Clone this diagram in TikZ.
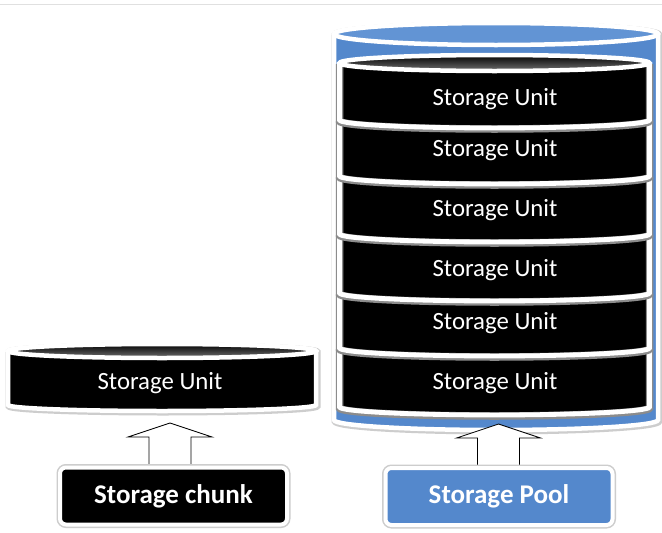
\documentclass[tikz,border=0pt]{standalone}
\usepackage{fontspec}
\setmainfont{Carlito}
\usetikzlibrary{calc}

\definecolor{poolblue}{RGB}{84,136,204}
\definecolor{pooltop}{RGB}{98,148,212}
\definecolor{rimgray}{RGB}{205,205,205}

% side walls + bottom arc + hidden back arc of a can shape
% #1 cx, #2 rx, #3 top y, #4 bottom y, #5 ry (pt)
\newcommand\canbody[5]{%
  ({#1-#2},#3) -- ({#1-#2},#4)
  arc[start angle=180,end angle=360,x radius=#2pt,y radius=#5pt]
  -- ({#1+#2},#3)
  arc[start angle=0,end angle=180,x radius=#2pt,y radius=#5pt] -- cycle}
% open outline (sides and bottom only)
\newcommand\canrim[5]{%
  ({#1-#2},#3) -- ({#1-#2},#4)
  arc[start angle=180,end angle=360,x radius=#2pt,y radius=#5pt]
  -- ({#1+#2},#3)}

\begin{document}
\begin{tikzpicture}[x=1pt,y=-1pt,
  halo/.style={draw=rimgray,line width=7pt},
  rim/.style={draw=white,line width=4.5pt},
  sephalo/.style={draw=black!45,line width=7.5pt},
  seprim/.style={draw=white,line width=4.8pt},
  capshade/.style={top color=black,bottom color=black!55},
  unitlabel/.style={text=white,font=\fontsize{24.8}{25}\selectfont},
  boxlabel/.style={text=white,font=\bfseries\fontsize{27}{27}\selectfont,
    minimum width=227pt,minimum height=57pt,rounded corners=6pt,
    preaction={draw=rimgray,line width=7pt},draw=white,line width=4pt},
  blockarrow/.style={fill=white,draw=black,line width=0.8pt,line join=miter},
]
\useasboundingbox (0,0) rectangle (662,533);
\fill[white] (0,0) rectangle (662,533);
\draw[black!12,line width=0.8pt] (0,4) -- (662,4);

% ---------- storage pool can ----------
\path[halo,shift={(1,1)}] \canbody{496}{162}{34}{420}{10};
\path[fill=poolblue,rim] \canbody{496}{162}{34}{420}{10};
\path[fill=pooltop,rim] (496,34) ellipse[x radius=162pt,y radius=11pt];

% ---------- stacked storage units (lowest first) ----------
\foreach \t/\b in {348/407,293/348,234/293,176/234,120/176,63/120}{
  \path[fill=black] \canbody{494.5}{155}{\t}{\b}{8};
  \path[sephalo,shift={(0,1)}] \canrim{494.5}{155}{\t}{\b}{8};
  \path[seprim] \canrim{494.5}{155}{\t}{\b}{8};
}
\path[capshade,rim] (494.5,63) ellipse[x radius=155pt,y radius=8pt];

\node[unitlabel] (u1) at (495,99)  {Storage Unit};
\node[unitlabel] (u2) at (495,150) {Storage Unit};
\node[unitlabel] (u3) at (495,210) {Storage Unit};
\node[unitlabel] (u4) at (495,270) {Storage Unit};
\node[unitlabel] (u5) at (495,323) {Storage Unit};
\node[unitlabel] (u6) at (495,383) {Storage Unit};

% ---------- single storage unit ----------
\path[halo,shift={(1,1)}] \canbody{162}{154}{351}{405}{6};
\path[fill=black,rim] \canbody{162}{154}{351}{405}{6};
\path[capshade,rim] (162,351) ellipse[x radius=154pt,y radius=7pt];
\node[unitlabel] (single) at (160,383) {Storage Unit};

% ---------- block arrows ----------
\coordinate (chunktip) at (170,423);
\coordinate (pooltip) at (498.5,424);
\foreach \c in {chunktip,pooltip}{
  \path[blockarrow] (\c) -- ($(\c)+(42,14)$) -- ($(\c)+(21,14)$)
    -- ($(\c)+(21,50)$) -- ($(\c)+(-21,50)$) -- ($(\c)+(-21,14)$)
    -- ($(\c)+(-42,14)$) -- cycle;
}

% ---------- labelled boxes ----------
\node[boxlabel,fill=black] (chunk) at (173.5,496) {Storage chunk};
\node[boxlabel,fill=poolblue] (pool) at (499,496.5) {Storage Pool};
\end{tikzpicture}
\end{document}
